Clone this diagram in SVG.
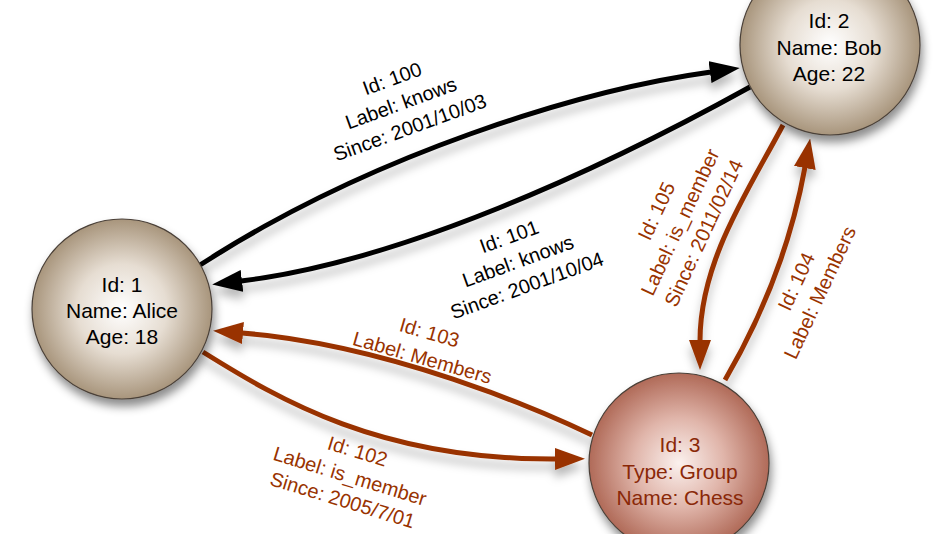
<svg xmlns="http://www.w3.org/2000/svg" width="950" height="534" viewBox="0 0 950 534">
<defs>
<style>
.edge{fill:none;stroke-width:5}
.blk{stroke:#000}
.red{stroke:#993300}
.node{stroke:#4a4038;stroke-width:1.2}
.nt{font-family:"Liberation Sans",Arial,sans-serif;font-size:21px;text-anchor:middle;fill:#000}
.ct{fill:#8a2808}
.el{font-family:"Liberation Sans",Arial,sans-serif;font-size:20px;text-anchor:middle}
.eb{fill:#000}
.er{fill:#993300}
</style>
<radialGradient id="gTan" cx="50%" cy="50%" r="50%">
<stop offset="0" stop-color="#ffffff"/>
<stop offset="0.5" stop-color="#e6ddd2"/>
<stop offset="1" stop-color="#a8957c"/>
</radialGradient>
<radialGradient id="gRed" cx="50%" cy="50%" r="50%">
<stop offset="0" stop-color="#fbf1ee"/>
<stop offset="0.5" stop-color="#e0b5aa"/>
<stop offset="1" stop-color="#b06a58"/>
</radialGradient>
<filter id="sh" x="-30%" y="-30%" width="160%" height="170%">
<feDropShadow dx="2" dy="7" stdDeviation="5" flood-color="#000" flood-opacity="0.45"/>
</filter>
<filter id="esh" x="-10%" y="-20%" width="120%" height="150%">
<feDropShadow dx="0" dy="8" stdDeviation="5" flood-color="#000" flood-opacity="0.28"/>
</filter>
<marker id="aB" viewBox="0 0 30 22" refX="1" refY="11" markerWidth="30" markerHeight="22" markerUnits="userSpaceOnUse" orient="auto">
<path d="M0,0 L30,11 L0,22 Z" fill="#000"/>
</marker>
<marker id="aR" viewBox="0 0 30 22" refX="1" refY="11" markerWidth="30" markerHeight="22" markerUnits="userSpaceOnUse" orient="auto">
<path d="M0,0 L30,11 L0,22 Z" fill="#993300"/>
</marker>
</defs>
<rect width="950" height="534" fill="#fff"/>
<g id="connectors" filter="url(#esh)">
<path id="e100" class="edge blk" d="M200,265 C370,155 580,90 711,72" marker-end="url(#aB)"/>
<path id="e101" class="edge blk" d="M750,87 C600,170 400,262 241,281" marker-end="url(#aB)"/>
<path id="e103" class="edge red" d="M592,435 C540,410 390,345 242,333" marker-end="url(#aR)"/>
<path id="e102" class="edge red" d="M203,352 C280,400 380,460 556,459" marker-end="url(#aR)"/>
<path id="e105" class="edge red" d="M783,125 C750,188 700,260 700,341" marker-end="url(#aR)"/>
<path id="e104" class="edge red" d="M725,380 C760,320 790,250 805,167" marker-end="url(#aR)"/>
</g>
<g id="edge-labels">
<g id="l100" transform="translate(401,103) rotate(-20)">
<text class="el eb" y="-19">Id: 100</text>
<text class="el eb" y="7">Label: knows</text>
<text class="el eb" y="33">Since: 2001/10/03</text>
</g>
<g id="l101" transform="translate(518,261) rotate(-20)">
<text class="el eb" y="-19">Id: 101</text>
<text class="el eb" y="7">Label: knows</text>
<text class="el eb" y="33">Since: 2001/10/04</text>
</g>
<g id="l103" transform="translate(426,345) rotate(16)">
<text class="el er" y="-6">Id: 103</text>
<text class="el er" y="20">Label: Members</text>
</g>
<g id="l102" transform="translate(350,476) rotate(17)">
<text class="el er" y="-19">Id: 102</text>
<text class="el er" y="7">Label: is_member</text>
<text class="el er" y="32">Since: 2005/7/01</text>
</g>
<g id="l105" transform="translate(680,222) rotate(-65)">
<text class="el er" y="-19">Id: 105</text>
<text class="el er" y="7">Label: is_member</text>
<text class="el er" y="33">Since: 2011/02/14</text>
</g>
<g id="l104" transform="translate(808,287) rotate(-65)">
<text class="el er" y="-6">Id: 104</text>
<text class="el er" y="20">Label: Members</text>
</g>
</g>
<g id="alice">
<circle class="node" cx="122" cy="309" r="90" fill="url(#gTan)" filter="url(#sh)"/>
<text class="nt" x="122" y="292">Id: 1</text>
<text class="nt" x="122" y="318">Name: Alice</text>
<text class="nt" x="122" y="344">Age: 18</text>
</g>
<g id="bob">
<circle class="node" cx="830" cy="45" r="90" fill="url(#gTan)" filter="url(#sh)"/>
<text class="nt" x="829" y="28">Id: 2</text>
<text class="nt" x="829" y="55">Name: Bob</text>
<text class="nt" x="829" y="81">Age: 22</text>
</g>
<g id="chess">
<circle class="node" cx="679" cy="463" r="90" fill="url(#gRed)" filter="url(#sh)"/>
<text class="nt ct" x="680" y="452">Id: 3</text>
<text class="nt ct" x="680" y="479">Type: Group</text>
<text class="nt ct" x="680" y="505">Name: Chess</text>
</g>
</svg>
